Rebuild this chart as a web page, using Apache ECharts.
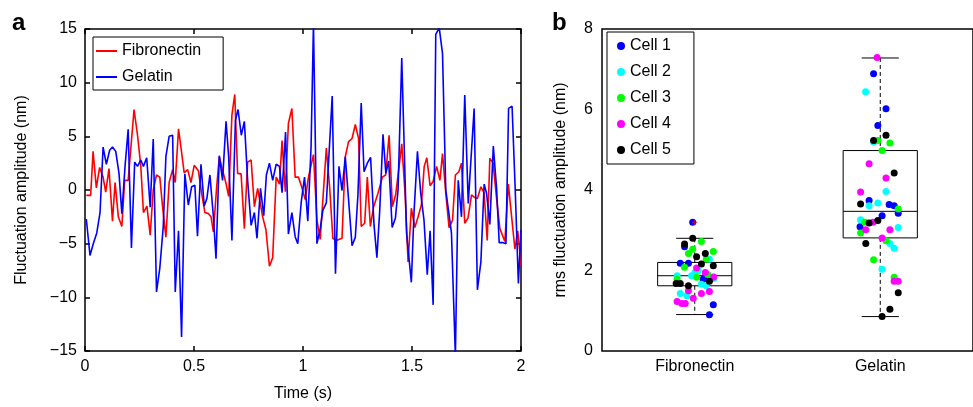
<!DOCTYPE html>
<html>
<head>
<meta charset="utf-8">
<script src="https://cdn.jsdelivr.net/npm/echarts@6/dist/echarts.min.js"></script>
<style>
html,body{margin:0;padding:0;background:#fff;}
#c{width:973px;height:407px;}
</style>
</head>
<body>
<div id="c"></div>
<script>
// ---------- Panel a data: [time (s), amplitude (nm)] ----------
const fibronectinTrace = [[0.006,-0.5],[0.026,-0.5],[0.037,3.6],[0.052,0.2],[0.067,2.1],[0.083,1.2],[0.095,-0.2],[0.110,2.0],[0.126,-2.9],[0.138,0.7],[0.153,-2.5],[0.169,-3.4],[0.182,0.9],[0.198,0.9],[0.225,7.5],[0.241,5.1],[0.256,2.2],[0.268,-2.1],[0.284,-1.5],[0.299,-4.2],[0.313,0],[0.328,1.4],[0.343,1.2],[0.356,-1.6],[0.371,-4.4],[0.386,0.7],[0.402,1.9],[0.414,0.7],[0.429,5.7],[0.440,4.0],[0.455,1.6],[0.471,1.9],[0.486,0.7],[0.501,2.3],[0.520,1.8],[0.535,-0.3],[0.550,-2.1],[0.566,-2.2],[0.578,-2.5],[0.589,-3.9],[0.604,0.3],[0.616,3.1],[0.634,1.6],[0.647,0.6],[0.659,-0.6],[0.674,7.0],[0.687,8.9],[0.700,1.55],[0.716,1.5],[0.731,-3.6],[0.746,2.6],[0.762,2.8],[0.777,-1.55],[0.792,0.15],[0.815,-2.5],[0.830,-3.7],[0.846,-7.1],[0.861,-6.3],[0.877,1.2],[0.892,0.55],[0.904,4.6],[0.919,-0.15],[0.933,6.2],[0.949,7.6],[0.964,1.2],[0.979,1.2],[0.994,0.3],[1.010,-0.9],[1.025,1.2],[1.048,3.3],[1.064,-2.8],[1.079,-4.6],[1.107,3.9],[1.122,0.3],[1.137,-4.5],[1.153,-4.7],[1.179,-4.5],[1.194,3.1],[1.209,4.5],[1.225,4.8],[1.240,6.1],[1.255,4.8],[1.267,-3.4],[1.283,-3.1],[1.295,1.2],[1.309,-3.4],[1.324,-1.55],[1.344,-0.3],[1.364,1.2],[1.379,1.4],[1.395,5.1],[1.410,-1.55],[1.425,-0.45],[1.441,2.2],[1.453,4.3],[1.468,-0.3],[1.482,-6.7],[1.497,-1.7],[1.513,-3.5],[1.528,-2.5],[1.543,-1.4],[1.556,2.2],[1.568,3.0],[1.583,0.4],[1.597,0.8],[1.613,2.2],[1.628,0.9],[1.640,3.4],[1.655,-0.3],[1.670,-3.5],[1.686,-2.8],[1.699,1.4],[1.715,1.7],[1.727,2.5],[1.742,-3.1],[1.757,-2.6],[1.773,-0.45],[1.788,-0.7],[1.800,-0.8],[1.816,0.3],[1.831,-0.3],[1.845,-4.7],[1.857,2.95],[1.872,2.5],[1.888,-0.8],[1.903,-3.6],[1.926,-4.8],[1.942,0.55],[1.957,-2.5],[1.972,-5.5],[1.985,-3.8],[2.0,-7.0]];

const gelatinTrace = [[0.006,-2.7],[0.023,-6.1],[0.038,-5.0],[0.054,-4.0],[0.069,-2.1],[0.083,4.0],[0.098,2.4],[0.113,3.7],[0.126,4.0],[0.141,3.6],[0.156,1.55],[0.169,-2.2],[0.184,2.3],[0.198,5.65],[0.213,-5.4],[0.228,2.6],[0.241,2.2],[0.256,2.8],[0.268,2.2],[0.283,3.0],[0.299,-1.6],[0.313,4.75],[0.328,-9.5],[0.343,-7.3],[0.359,-3.4],[0.371,3.1],[0.386,5.0],[0.402,5.1],[0.414,-9.5],[0.429,-3.8],[0.443,-13.7],[0.458,1.5],[0.474,-1.4],[0.489,0.3],[0.504,0.45],[0.516,-4.3],[0.532,2.4],[0.547,-1.5],[0.559,-0.8],[0.573,1.4],[0.589,-2.5],[0.601,-6.4],[0.616,3.2],[0.631,0.9],[0.647,6.4],[0.659,3.1],[0.674,-4.7],[0.690,6.5],[0.702,7.5],[0.717,5.1],[0.731,6.4],[0.746,0.9],[0.762,-3.3],[0.777,-2.1],[0.789,-4.5],[0.805,0.15],[0.820,-2.4],[0.832,1.4],[0.846,2.5],[0.861,0.9],[0.877,2.4],[0.892,2.2],[0.904,-0.25],[0.920,5.4],[0.933,-4.1],[0.949,-2.1],[0.964,-4.35],[0.976,-5.0],[0.992,-1.1],[1.007,1.2],[1.022,-2.9],[1.037,4.0],[1.048,15.5],[1.064,-5.0],[1.079,-3.6],[1.091,-1.9],[1.107,-1.2],[1.134,8.75],[1.149,-7.8],[1.165,2.2],[1.179,-0.05],[1.194,3.1],[1.209,-0.9],[1.225,-5.2],[1.240,-4.4],[1.252,-0.45],[1.267,8.1],[1.280,1.7],[1.295,2.5],[1.310,3.05],[1.326,-3.3],[1.339,-6.3],[1.352,-1.9],[1.367,5.2],[1.380,1.55],[1.393,2.7],[1.409,-3.5],[1.424,-2.6],[1.436,0],[1.453,12.3],[1.475,-4.0],[1.497,-8.6],[1.509,-2.2],[1.525,3.6],[1.540,-0.3],[1.555,-2.8],[1.570,-7.9],[1.583,-3.8],[1.597,-10.7],[1.609,14.5],[1.625,15.1],[1.640,12.7],[1.655,0],[1.681,-4.0],[1.699,-15.5],[1.712,0.9],[1.727,-2.5],[1.742,8.85],[1.758,-1.25],[1.785,7.6],[1.800,-9.3],[1.816,-6.7],[1.831,0.55],[1.842,-0.3],[1.857,-3.2],[1.873,4.1],[1.888,0.15],[1.900,-4.9],[1.916,-4.9],[1.931,-5.0],[1.943,7.6],[1.959,7.8],[1.973,0.3],[1.988,-8.7],[2.0,-3.7]];

// ---------- Panel b data ----------
const substrates = ['Fibronectin', 'Gelatin'];
// [position, lower whisker, Q1, median, Q3, upper whisker]
const boxStats = [
  [1, 0.905, 1.62, 1.87, 2.20, 2.80],
  [2, 0.855, 2.81, 3.47, 4.98, 7.28]
];
const outliers = [[1, 3.2]];
// [jittered position, rms amplitude (nm)]
const cell1 = [[0.989,3.2],[0.945,2.59],[0.922,2.18],[0.966,2.18],[1.053,1.83],[1.079,0.9],[1.100,1.15],[1.045,1.78],
  [1.964,6.89],[2.031,6.02],[1.987,5.6],[1.940,3.74],[2.010,3.36],[2.048,3.64],[2.075,3.61],[2.097,3.42],[1.891,3.09]];
const cell2 = [[0.905,1.87],[0.922,1.43],[0.957,1.37],[1.001,1.95],[1.036,1.66],[1.062,1.62],[1.079,2.28],[1.102,1.8],[0.983,1.87],[1.018,2.0],
  [1.921,6.44],[1.940,3.61],[1.987,3.68],[2.031,3.96],[1.894,3.26],[2.097,3.07],[2.052,2.67],[2.075,2.55],[2.010,2.03],[1.964,5.19]];
const cell3 = [[1.036,2.72],[0.989,2.53],[0.966,2.42],[1.100,2.47],[0.945,2.08],[1.062,2.28],[1.010,1.83],[0.905,1.78],[1.070,1.9],
  [1.987,5.23],[2.052,5.17],[2.010,4.98],[1.917,3.2],[1.894,2.93],[2.031,2.74],[1.964,2.27],[2.075,1.83],[2.097,3.53]];
const cell4 = [[0.905,1.23],[0.931,1.18],[0.949,1.18],[0.992,1.31],[1.036,1.43],[1.079,1.48],[0.966,1.5],[1.010,2.06],[1.057,1.95],[1.102,1.84],
  [1.983,7.29],[1.894,3.95],[1.940,4.65],[2.031,4.3],[2.052,3.01],[1.922,3.01],[1.961,3.2],[2.010,2.81],[2.075,1.73],[2.097,1.73]];
const cell5 = [[0.989,2.8],[0.945,2.66],[1.010,2.34],[1.057,2.42],[1.036,2.16],[1.100,2.12],[1.079,1.73],[0.900,1.68],[0.922,1.68],[0.966,1.62],
  [1.964,5.23],[2.031,5.36],[2.075,4.42],[1.894,3.65],[1.940,3.18],[1.987,3.24],[1.922,2.67],[2.097,1.45],[2.052,1.04],[2.010,0.855]];

const cellNames = ['Cell 1','Cell 2','Cell 3','Cell 4','Cell 5'];
const cellColors = ['#0000ff','#00ffff','#00ff00','#ff00ff','#000000'];
const cellData = [cell1, cell2, cell3, cell4, cell5];

const FONT = 'Liberation Sans, Arial, Helvetica, sans-serif';
const BOX_HALF = 0.2, CAP_HALF = 0.1;
const minusFmt = v => String(v).replace('-', '\u2212');

const chart = echarts.init(document.getElementById('c'));

const tickStyle = { show: true, inside: true, length: 5, lineStyle: { color: '#000', width: 1.5 } };
const noLine = { show: false, onZero: false };

const option = {
  animation: false,
  backgroundColor: '#fff',
  textStyle: { fontFamily: FONT },
  graphic: [
    { type: 'text', left: 12, top: 11, style: { text: 'a', font: 'bold 24px ' + FONT, fill: '#000' } },
    { type: 'text', left: 552, top: 11, style: { text: 'b', font: 'bold 24px ' + FONT, fill: '#000' } }
  ],
  grid: [
    { left: 85, top: 29, width: 436, height: 322, show: true, borderColor: '#000', borderWidth: 1.5, backgroundColor: 'transparent' },
    { left: 602, top: 29, width: 381, height: 322, show: true, borderColor: '#000', borderWidth: 1.5, backgroundColor: 'transparent' }
  ],
  legend: [
    {
      data: ['Fibronectin', 'Gelatin'],
      orient: 'vertical', left: 93, top: 37,
      icon: 'rect', itemWidth: 21, itemHeight: 2, itemGap: 10,
      padding: [6, 22, 5, 3],
      borderColor: '#000', borderWidth: 1, backgroundColor: '#fff',
      textStyle: { fontSize: 16, lineHeight: 16, color: '#000', fontFamily: FONT },
      selectedMode: false
    },
    {
      data: cellNames,
      orient: 'vertical', left: 607, top: 32,
      icon: 'circle', itemWidth: 8, itemHeight: 8, itemGap: 10,
      padding: [6, 23, 6, 10],
      borderColor: '#000', borderWidth: 1, backgroundColor: '#fff',
      textStyle: { fontSize: 16, lineHeight: 16, color: '#000', fontFamily: FONT },
      selectedMode: false
    }
  ],
  xAxis: [
    {
      gridIndex: 0, type: 'value', min: 0, max: 2, interval: 0.5, position: 'bottom',
      name: 'Time (s)', nameLocation: 'middle', nameGap: 35,
      nameTextStyle: { fontSize: 16, color: '#000', fontFamily: FONT },
      axisLine: noLine, axisTick: tickStyle,
      axisLabel: { fontSize: 16, color: '#000', margin: 8, fontFamily: FONT },
      splitLine: { show: false }
    },
    {
      gridIndex: 0, type: 'value', min: 0, max: 2, interval: 0.5, position: 'top',
      axisLine: noLine, axisTick: tickStyle,
      axisLabel: { show: false }, splitLine: { show: false }
    },
    {
      gridIndex: 1, type: 'value', min: 0.5, max: 2.5,
      axisLine: noLine, axisTick: { show: false }, axisLabel: { show: false }, splitLine: { show: false }
    },
    {
      gridIndex: 1, type: 'category', data: substrates, boundaryGap: true, position: 'bottom',
      axisLine: noLine, axisTick: { show: false },
      axisLabel: { fontSize: 16, color: '#000', margin: 8, fontFamily: FONT },
      splitLine: { show: false }
    }
  ],
  yAxis: [
    {
      gridIndex: 0, type: 'value', min: -15, max: 15, interval: 5, position: 'left',
      name: 'Fluctuation amplitude (nm)', nameLocation: 'middle', nameGap: 55,
      nameTextStyle: { fontSize: 16, color: '#000', fontFamily: FONT },
      axisLine: noLine, axisTick: tickStyle,
      axisLabel: { fontSize: 16, color: '#000', margin: 8, formatter: minusFmt, fontFamily: FONT },
      splitLine: { show: false }
    },
    {
      gridIndex: 0, type: 'value', min: -15, max: 15, interval: 5, position: 'right',
      axisLine: noLine, axisTick: tickStyle,
      axisLabel: { show: false }, splitLine: { show: false }
    },
    {
      gridIndex: 1, type: 'value', min: 0, max: 8, interval: 2,
      name: 'rms fluctuation amplitude (nm)', nameLocation: 'middle', nameGap: 33,
      nameTextStyle: { fontSize: 16, color: '#000', fontFamily: FONT },
      axisLine: noLine, axisTick: { show: false },
      axisLabel: { fontSize: 16, color: '#000', margin: 9, fontFamily: FONT },
      splitLine: { show: false }
    }
  ],
  series: [
    {
      name: 'Fibronectin', type: 'line', xAxisIndex: 0, yAxisIndex: 0,
      data: fibronectinTrace, showSymbol: false, symbol: 'none', clip: true,
      lineStyle: { color: '#ff0000', width: 1.6 }, itemStyle: { color: '#ff0000' }
    },
    {
      name: 'Gelatin', type: 'line', xAxisIndex: 0, yAxisIndex: 0,
      data: gelatinTrace, showSymbol: false, symbol: 'none', clip: true,
      lineStyle: { color: '#0000ff', width: 1.6 }, itemStyle: { color: '#0000ff' }
    },
    {
      type: 'custom', xAxisIndex: 2, yAxisIndex: 2, z: 1, silent: true,
      data: boxStats,
      encode: { x: 0, y: [1, 2, 3, 4, 5] },
      renderItem: function (params, api) {
        const x = api.value(0);
        const lo = api.value(1), q1 = api.value(2), med = api.value(3), q3 = api.value(4), hi = api.value(5);
        const tl = api.coord([x - BOX_HALF, q3]);
        const br = api.coord([x + BOX_HALF, q1]);
        const mL = api.coord([x - BOX_HALF, med]);
        const mR = api.coord([x + BOX_HALF, med]);
        const cHi = api.coord([x, hi]);
        const cQ3 = api.coord([x, q3]);
        const cQ1 = api.coord([x, q1]);
        const cLo = api.coord([x, lo]);
        const capHiL = api.coord([x - CAP_HALF, hi]), capHiR = api.coord([x + CAP_HALF, hi]);
        const capLoL = api.coord([x - CAP_HALF, lo]), capLoR = api.coord([x + CAP_HALF, lo]);
        const solid = { stroke: '#000', lineWidth: 1 };
        const dashed = { stroke: '#000', lineWidth: 1, lineDash: [4, 3] };
        return {
          type: 'group',
          children: [
            { type: 'line', shape: { x1: cHi[0], y1: cHi[1], x2: cQ3[0], y2: cQ3[1] }, style: dashed },
            { type: 'line', shape: { x1: cQ1[0], y1: cQ1[1], x2: cLo[0], y2: cLo[1] }, style: dashed },
            { type: 'line', shape: { x1: capHiL[0], y1: capHiL[1], x2: capHiR[0], y2: capHiR[1] }, style: solid },
            { type: 'line', shape: { x1: capLoL[0], y1: capLoL[1], x2: capLoR[0], y2: capLoR[1] }, style: solid },
            { type: 'rect', shape: { x: tl[0], y: tl[1], width: br[0] - tl[0], height: br[1] - tl[1] }, style: { fill: 'none', stroke: '#000', lineWidth: 1 } },
            { type: 'line', shape: { x1: mL[0], y1: mL[1], x2: mR[0], y2: mR[1] }, style: solid }
          ]
        };
      }
    }
  ].concat(cellNames.map((n, i) => ({
    name: n, type: 'scatter', xAxisIndex: 2, yAxisIndex: 2, z: 3,
    data: cellData[i], symbol: 'circle', symbolSize: 7,
    itemStyle: { color: cellColors[i], opacity: 1 }
  }))).concat([{
    type: 'scatter', xAxisIndex: 2, yAxisIndex: 2, z: 4, silent: true,
    data: outliers, symbol: 'path://M4,0h2v10h-2zM0,4h10v2h-10z', symbolSize: 5,
    itemStyle: { color: '#ff0000' }
  }])
};

chart.setOption(option);
</script>
</body>
</html>
